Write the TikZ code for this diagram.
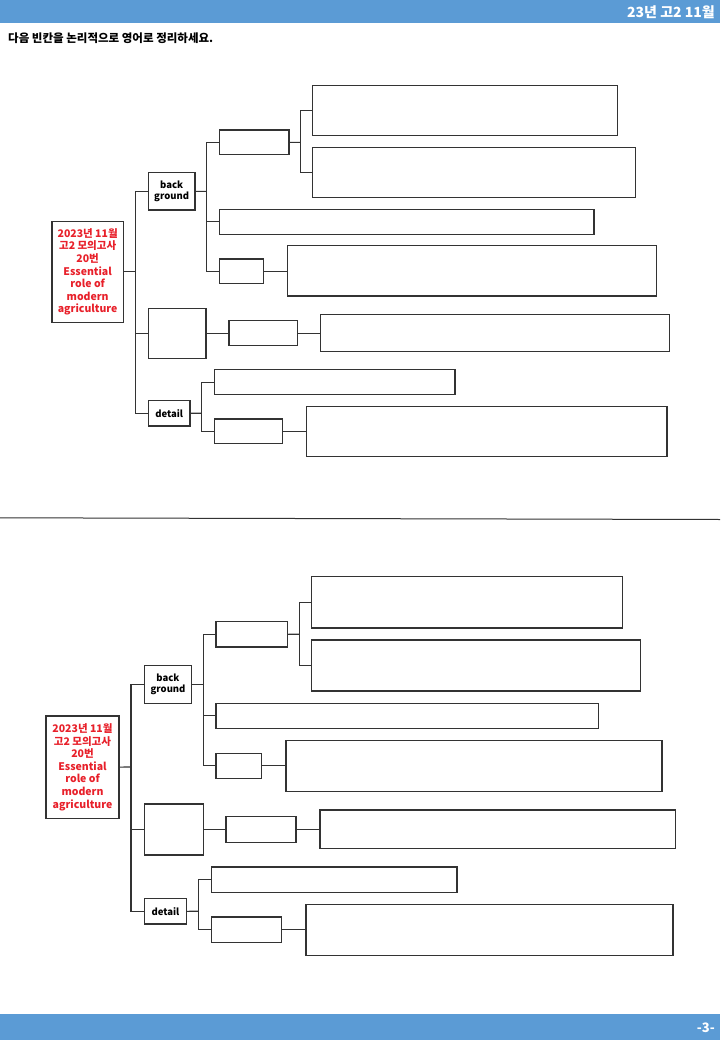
\documentclass[tikz,border=0pt]{standalone}
\usepackage{fontspec}
\newfontfamily\kr{Noto Sans CJK KR}
\usetikzlibrary{calc}
\definecolor{hdr}{HTML}{5B9BD5}
\definecolor{redtxt}{HTML}{E8202A}
\definecolor{ln}{HTML}{333333}
\newcommand\bx[6]{\node[bx, minimum width={#4-#2}, minimum height={#5-#3}] (#1) at ({(#2+#4)/2},{(#3+#5)/2}) {#6};}
\begin{document}
\begin{tikzpicture}[x=1pt,y=-1pt,
  bx/.style={draw=ln, line width=1.2pt, inner sep=0pt, outer sep=0pt, fill=white, align=center, font=\kr\bfseries\fontsize{9.5}{11}\selectfont},
  cn/.style={draw=ln, line width=1.2pt},
  roottxt/.style={text=redtxt, font=\kr\bfseries\fontsize{10.5}{12.6}\selectfont}]
\useasboundingbox (0,0) rectangle (720,1040);
\fill[white] (0,0) rectangle (720,1040);
% header / footer
\fill[hdr] (0,0) rectangle (720,23.5);
\node[anchor=east, text=white, font=\kr\bfseries\fontsize{14}{15}\selectfont, inner sep=0pt] (title) at (715,12) {23년 고2 11월};
\node[anchor=west, font=\kr\bfseries\fontsize{11.5}{13}\selectfont, inner sep=0pt] (instr) at (8,38) {다음 빈칸을 논리적으로 영어로 정리하세요.};
\fill[hdr] (0,1014) rectangle (720,1040);
\node[anchor=east, text=white, font=\kr\bfseries\fontsize{13}{14}\selectfont, inner sep=0pt] (page) at (715,1028) {-3-};
% divider
\coordinate (dl) at (0,517.8);
\coordinate (dr) at (720,519.5);
\draw[line width=1pt, ln] (dl) -- (dr);

% ================= top diagram =================
\bx{rA}{52}{221.5}{123.3}{322.3}{}
\node[roottxt, align=center] (rAt) at (rA.center) {2023년 11월\\고2 모의고사\\20번\\Essential\\role of\\modern\\agriculture};
\bx{bgA}{148.3}{172.7}{195}{210}{back\\ground}
\bx{mA}{148.3}{308.3}{206}{358.3}{}
\bx{dA}{148.3}{400.7}{190}{426}{detail}
\coordinate (tA) at (135.7,271.9);
\draw[cn] (rA.east) -- (tA);
\draw[cn] (bgA.west) -| (tA);
\draw[cn] (mA.west) -| (tA);
\draw[cn] (dA.west) -| (tA);
% background branch
\bx{a1A}{219.3}{130}{289}{154.7}{}
\bx{a1aA}{312.7}{85.7}{617.3}{135.7}{}
\bx{a1bA}{312.7}{147.7}{635.7}{197.5}{}
\bx{a2A}{219.3}{209.3}{594}{234.2}{}
\bx{a3A}{219.3}{259}{263.7}{283.3}{}
\bx{a3bA}{287.3}{245.7}{656.7}{296}{}
\coordinate (tbA) at (206.7,191.4);
\draw[cn] (bgA.east) -- (tbA);
\draw[cn] (a1A.west) -| (tbA);
\draw[cn] (a2A.west) -| (tbA);
\draw[cn] (a3A.west) -| (tbA);
\coordinate (ta1A) at (300.7,142.4);
\draw[cn] (a1A.east) -- (ta1A);
\draw[cn] (a1aA.west) -| (ta1A);
\draw[cn] (a1bA.west) -| (ta1A);
\draw[cn] (a3A.east) -- (a3A.east -| a3bA.west);
% middle branch
\bx{b1A}{229}{320.7}{297.3}{345.7}{}
\bx{b2A}{320.7}{314.3}{669.3}{351.7}{}
\draw[cn] (mA.east) -- (mA.east -| b1A.west);
\draw[cn] (b1A.east) -- (b1A.east -| b2A.west);
% detail branch
\bx{c1A}{214.3}{369.7}{455}{394.7}{}
\bx{c2A}{214.3}{419}{282.7}{443.7}{}
\bx{c2bA}{306.7}{406.3}{667}{456.3}{}
\coordinate (tdA) at (201.7,413.3);
\draw[cn] (dA.east) -- (tdA);
\draw[cn] (c1A.west) -| (tdA);
\draw[cn] (c2A.west) -| (tdA);
\draw[cn] (c2A.east) -- (c2A.east -| c2bA.west);

% ================= bottom diagram =================
\bx{rB}{46}{716}{119}{818.3}{}
\node[roottxt, align=center] (rBt) at (rB.center) {2023년 11월\\고2 모의고사\\20번\\Essential\\role of\\modern\\agriculture};
\bx{bgB}{144.3}{665.7}{191.7}{703.7}{back\\ground}
\bx{mB}{144.3}{804}{203.3}{855}{}
\bx{dB}{144.3}{898.7}{186.7}{924}{detail}
\coordinate (tB) at (131,767);
\draw[cn] (rB.east) -- (tB);
\draw[cn] (bgB.west) -| (tB);
\draw[cn] (mB.west) -| (tB);
\draw[cn] (dB.west) -| (tB);
% background branch
\bx{a1B}{216}{621.7}{287.3}{647}{}
\bx{a1aB}{311.7}{576.7}{622.3}{628}{}
\bx{a1bB}{311.7}{640}{640.7}{691}{}
\bx{a2B}{216}{703.3}{598.7}{728.3}{}
\bx{a3B}{216}{753.3}{261.7}{778.3}{}
\bx{a3bB}{286}{740.3}{662}{791.3}{}
\coordinate (tbB) at (203.3,684.7);
\draw[cn] (bgB.east) -- (tbB);
\draw[cn] (a1B.west) -| (tbB);
\draw[cn] (a2B.west) -| (tbB);
\draw[cn] (a3B.west) -| (tbB);
\coordinate (ta1B) at (299.3,634.3);
\draw[cn] (a1B.east) -- (ta1B);
\draw[cn] (a1aB.west) -| (ta1B);
\draw[cn] (a1bB.west) -| (ta1B);
\draw[cn] (a3B.east) -- (a3B.east -| a3bB.west);
% middle branch
\bx{b1B}{226}{816.7}{296}{842.3}{}
\bx{b2B}{320}{810}{675.7}{848.3}{}
\draw[cn] (mB.east) -- (mB.east -| b1B.west);
\draw[cn] (b1B.east) -- (b1B.east -| b2B.west);
% detail branch
\bx{c1B}{211.7}{867}{457}{892.3}{}
\bx{c2B}{211.7}{917}{281.3}{942.3}{}
\bx{c2bB}{306}{904.3}{673}{955.3}{}
\coordinate (tdB) at (198.7,911.3);
\draw[cn] (dB.east) -- (tdB);
\draw[cn] (c1B.west) -| (tdB);
\draw[cn] (c2B.west) -| (tdB);
\draw[cn] (c2B.east) -- (c2B.east -| c2bB.west);
\end{tikzpicture}
\end{document}
